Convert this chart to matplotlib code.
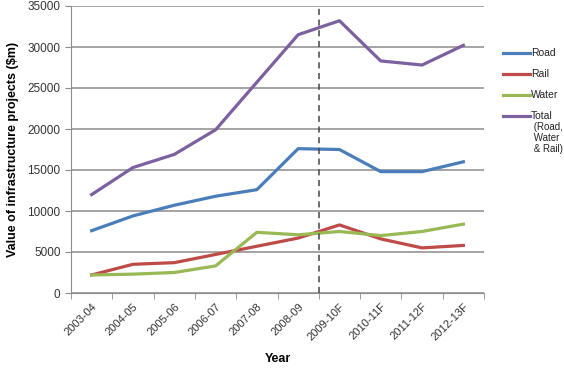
import matplotlib.pyplot as plt
from matplotlib.lines import Line2D
import numpy as np

years = ['2003-04', '2004-05', '2005-06', '2006-07', '2007-08', '2008-09',
         '2009-10F', '2010-11F', '2011-12F', '2012-13F']
road = [7600, 9400, 10700, 11800, 12600, 17600, 17500, 14800, 14800, 16000]
rail = [2200, 3500, 3700, 4700, 5700, 6700, 8300, 6600, 5500, 5800]
water = [2200, 2300, 2500, 3300, 7400, 7100, 7500, 7000, 7500, 8400]
total = [12000, 15300, 16900, 19900, 25700, 31500, 33200, 28300, 27800, 30200]

series_names = ['Road', 'Rail', 'Water', 'Total']
series_labels = ['Road', 'Rail', 'Water', 'Total\n (Road,\n Water\n & Rail)']
colors = ['#4A7EBB', '#BE4B48', '#98B954', '#7D60A0']

plt.rcParams['font.family'] = ['Liberation Sans', 'DejaVu Sans']

W, H = 564, 375
fig = plt.figure(figsize=(W / 100, H / 100), dpi=100)
ax = fig.add_axes([71 / W, 1 - 293 / H, (484 - 71) / W, (293 - 6) / H])

x = np.arange(len(years))
for vals, name, c in zip([road, rail, water, total], series_names, colors):
    ax.plot(x, vals, color=c, lw=2.3, label=name)

ax.axvline(5.5, color='#444444', lw=1.1, ls=(0, (4, 3)))

ax.set_xlim(-0.5, 9.5)
ax.set_ylim(0, 35000)
ax.set_yticks(range(0, 35001, 5000))
ax.yaxis.grid(True, color='#8c8c8c', lw=1.1)
ax.set_axisbelow(True)

ax.set_xticks(x)
ax.set_xticklabels(years, rotation=45, ha='right', rotation_mode='anchor', fontsize=8, color='#333333')
ax.set_xticks(np.arange(-0.5, 10, 1), minor=True)
ax.tick_params(axis='x', which='major', length=0, pad=6)
ax.tick_params(axis='x', which='minor', length=4, color='#8c8c8c', direction='out')
ax.tick_params(axis='y', length=4, color='#8c8c8c', labelsize=8.5, labelcolor='#333333')

for s in ['top', 'right']:
    ax.spines[s].set_visible(False)
for s in ['left', 'bottom']:
    ax.spines[s].set_color('#8c8c8c')

ax.set_xlabel('Year', fontsize=9, fontweight='bold', labelpad=8)
ax.set_ylabel('Value of infrastructure projects ($m)', fontsize=9, fontweight='bold', labelpad=6)

# legend drawn by hand so the multi-line label hangs below its line
for i, (lab, c) in enumerate(zip(series_labels, colors)):
    yp = 1 - (53 + 21 * i) / H
    fig.add_artist(Line2D([503 / W, 530 / W], [yp, yp], color=c, lw=2.3))
    first, *rest = lab.split('\n')
    fig.text(531 / W, yp, first, fontsize=7.5, va='center', ha='left', color='#222222')
    if rest:
        fig.text(531 / W, yp - 6 / H, '\n'.join(rest), fontsize=7, va='top', ha='left',
                 color='#222222', linespacing=1.15)

plt.savefig('out.png', dpi=100)
